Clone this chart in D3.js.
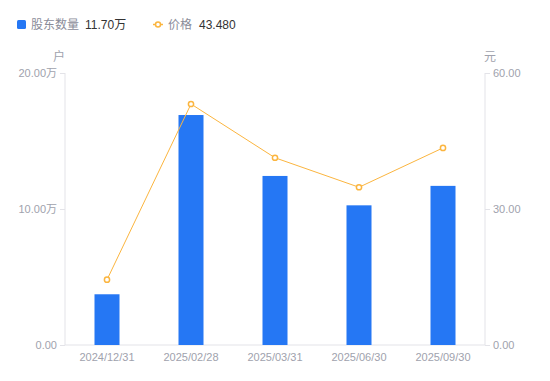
<!DOCTYPE html>
<html lang="zh">
<head>
<meta charset="utf-8">
<title>股东数量与价格</title>
<script src="https://cdn.jsdelivr.net/npm/d3@7"></script>
<style>
  body { margin: 0; background: #fff; }
  text { font-family: "Liberation Sans", "Noto Sans CJK SC", sans-serif; }
</style>
</head>
<body>
<script>
// data
var dates = ["2024/12/31", "2025/02/28", "2025/03/31", "2025/06/30", "2025/09/30"];
var holders = [3.73, 16.91, 12.43, 10.27, 11.70]; // 万户
var prices = [14.4, 53.16, 41.3, 34.8, 43.48];  // 元
var leftTicks = [0, 10, 20];
var rightTicks = [0, 30, 60];

var w = 550, h = 381;
// plot box (note: "top" would clash with window.top)
var padL = 65, padR = 485, padT = 73, padB = 345;

var svg = d3.select("body").append("svg")
  .attr("width", w).attr("height", h);

var x = d3.scaleBand().domain(dates).range([padL, padR]);
var yL = d3.scaleLinear().domain([0, 20]).range([padB, padT]);
var yR = d3.scaleLinear().domain([0, 60]).range([padB, padT]);

// axes
var axisColor = "#e3e3e8", labelColor = "#a0a2ad";

var gl = svg.append("g").attr("transform", "translate(" + padL + ",0)")
  .call(d3.axisLeft(yL).tickValues(leftTicks).tickSize(5).tickPadding(3)
    .tickFormat(function(d) { return d === 0 ? "0.00" : d3.format(".2f")(d) + "万"; }));
var gr = svg.append("g").attr("transform", "translate(" + padR + ",0)")
  .call(d3.axisRight(yR).tickValues(rightTicks).tickSize(5).tickPadding(3)
    .tickFormat(d3.format(".2f")));
var gb = svg.append("g").attr("transform", "translate(0," + padB + ")")
  .call(d3.axisBottom(x).tickSize(0).tickPadding(8));

[gl, gr, gb].forEach(function(g) {
  g.select(".domain").attr("stroke", axisColor);
  g.selectAll(".tick line").attr("stroke", axisColor);
  g.selectAll("text").attr("fill", labelColor).attr("font-size", "11px")
    .style("font-family", "'Liberation Sans', 'Noto Sans CJK SC', sans-serif");
});
gl.select(".domain").attr("d", "M0," + padT + "V" + padB);
gr.select(".domain").attr("d", "M0," + padT + "V" + padB);
gb.select(".domain").attr("d", "M" + padL + ",0H" + padR);

// unit labels
svg.append("text").attr("x", 59).attr("y", 61).attr("text-anchor", "middle")
  .attr("font-size", "12px").attr("fill", labelColor).text("户");
svg.append("text").attr("x", 490).attr("y", 61).attr("text-anchor", "middle")
  .attr("font-size", "12px").attr("fill", labelColor).text("元");

// bars
var bw = 25;
svg.selectAll("rect.bar").data(holders).enter().append("rect")
  .attr("class", "bar")
  .attr("x", function(d, i) { return x(dates[i]) + x.bandwidth() / 2 - bw / 2; })
  .attr("y", function(d) { return yL(d); })
  .attr("width", bw)
  .attr("height", function(d) { return padB - yL(d); })
  .attr("fill", "#2577f4");

// price line
var lineColor = "#fbb53f";
var line = d3.line()
  .x(function(d, i) { return x(dates[i]) + x.bandwidth() / 2; })
  .y(function(d) { return yR(d); });
svg.append("path").datum(prices)
  .attr("d", line).attr("fill", "none")
  .attr("stroke", lineColor).attr("stroke-width", 1);
svg.selectAll("circle.pt").data(prices).enter().append("circle")
  .attr("class", "pt")
  .attr("cx", function(d, i) { return x(dates[i]) + x.bandwidth() / 2; })
  .attr("cy", function(d) { return yR(d); })
  .attr("r", 2.6)
  .attr("fill", "#fff").attr("stroke", lineColor).attr("stroke-width", 1.5);

// legend
var lg = svg.append("g");
lg.append("rect").attr("x", 17).attr("y", 20).attr("width", 9).attr("height", 9)
  .attr("rx", 1.5).attr("fill", "#2577f4");
lg.append("text").attr("x", 31).attr("y", 29).attr("font-size", "12px")
  .attr("fill", "#8a8c99").text("股东数量");
lg.append("text").attr("x", 85).attr("y", 29).attr("font-size", "12px")
  .attr("fill", "#333").text(d3.format(".2f")(holders[holders.length - 1]) + "万");
lg.append("line").attr("x1", 153).attr("x2", 163).attr("y1", 24.5).attr("y2", 24.5)
  .attr("stroke", lineColor).attr("stroke-width", 1.5);
lg.append("circle").attr("cx", 158).attr("cy", 24.5).attr("r", 2.5)
  .attr("fill", "#fff").attr("stroke", lineColor).attr("stroke-width", 1.5);
lg.append("text").attr("x", 168).attr("y", 29).attr("font-size", "12px")
  .attr("fill", "#8a8c99").text("价格");
lg.append("text").attr("x", 199).attr("y", 29).attr("font-size", "12px")
  .attr("fill", "#333").text(d3.format(".3f")(prices[prices.length - 1]));
</script>
</body>
</html>
